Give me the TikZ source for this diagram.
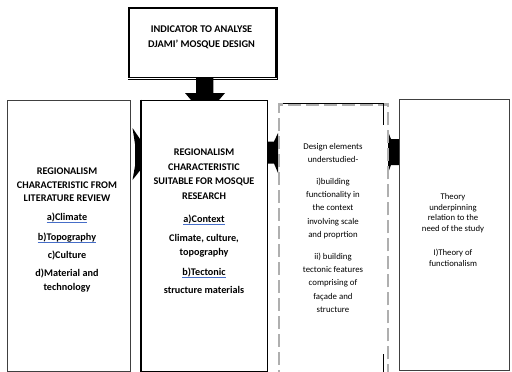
\documentclass[tikz,border=0pt]{standalone}
\usepackage{fontspec}
\setmainfont{Carlito}
\definecolor{ulblue}{RGB}{70,110,200}
\definecolor{dashgray}{RGB}{175,175,175}
\begin{document}
\begin{tikzpicture}[x=1pt,y=-1pt,
  box/.style={draw=black!75, line width=0.8pt, fill=white, inner sep=0pt, anchor=north west},
  bt/.style={font=\fontsize{10.2}{12}\selectfont\bfseries, inner sep=0pt, text height=6.9pt, text depth=1.9pt},
  tt/.style={font=\fontsize{10.3}{12}\selectfont\bfseries, inner sep=0pt, text height=6.9pt, text depth=1.9pt},
  rt/.style={font=\fontsize{8.8}{10}\selectfont, inner sep=0pt, text height=6.1pt, text depth=1.6pt},
  rts/.style={font=\fontsize{8.7}{10}\selectfont, inner sep=0pt, text height=6pt, text depth=1.6pt},
  blk/.style={fill=black, draw=none},
  ul/.style={draw=ulblue, line width=0.8pt}
]
\useasboundingbox (0,0) rectangle (512,372);
\fill[white] (0,0) rectangle (512,372);

% block arrows (drawn under the boxes)
\fill[blk] (196,76) -- (213.3,76) -- (213.3,93) -- (225,93) -- (219,100) -- (191,100) -- (185,93) -- (196,93) -- cycle;
\fill[blk] (132.5,128) -- (142,142) -- (142,168) -- (132.5,180) -- (135,166) -- (135,144) -- cycle;
\fill[blk] (266.5,141.5) -- (274,141.5) -- (278,133) -- (278,173) -- (274,163.5) -- (266.5,163.5) -- cycle;
\fill[blk] (386.5,128) -- (391,139) -- (399,139) -- (399,165) -- (391,165) -- (386.5,177) -- cycle;

% boxes
\node[box, minimum width=146.7pt, minimum height=69.4pt, line width=1.6pt, draw=black] (top) at (128.3,7.3) {};
\draw[line width=1pt] ([xshift=1pt]top.north east) -- ([xshift=1pt,yshift=-1pt]top.south east) -- ([yshift=-1pt]top.south west);
\node[box, minimum width=122.5pt, minimum height=270.5pt] (left) at (7,100) {};
\node[box, minimum width=125.5pt, minimum height=271pt, line width=1.3pt, draw=black] (mid) at (141,99.5) {};
\draw[line width=2.6pt] (mid.north west) -- (mid.south west) -- (mid.south east);
\node[box, draw=dashgray, line width=2.2pt, dash pattern=on 13pt off 5pt, minimum width=109pt, minimum height=272pt] (dash) at (277.5,103.3) {};
\draw[line width=0.7pt] (283,103.3) -- (383.5,103.3) -- (383.5,125);
\draw[line width=0.7pt] (383.5,354) -- (383.5,372);
\node[box, minimum width=110pt, minimum height=271pt] (right) at (398.5,99.3) {};

% top text
\node[tt] (t1) at (201.5,30) {INDICATOR TO ANALYSE};
\node[tt] (t2) at (201.5,45) {DJAMI’ MOSQUE DESIGN};

% left text
\node[bt] (l1) at (67,172) {REGIONALISM};
\node[bt] (l2) at (67,185.5) {CHARACTERISTIC FROM};
\node[bt] (l3) at (67,199) {LITERATURE REVIEW};
\node[bt] (l4) at (67,218) {a)Climate};
\node[bt] (l5) at (67,237.5) {b)Topography};
\node[bt] (l6) at (67,256) {c)Culture};
\node[bt] (l7) at (67,274) {d)Material and};
\node[bt] (l8) at (67,288) {technology};
\draw[ul] ([yshift=-2.2pt]l4.base west) -- ([yshift=-2.2pt]l4.base east);
\draw[ul] ([yshift=-2.8pt]l5.base west) -- ([yshift=-2.8pt]l5.base east);

% middle text
\node[bt] (m1) at (204,153) {REGIONALISM};
\node[bt] (m2) at (204,167.5) {CHARACTERISTIC};
\node[bt] (m3) at (204,182) {SUITABLE FOR MOSQUE};
\node[bt] (m4) at (204,196.5) {RESEARCH};
\node[bt] (m5) at (204,220) {a)Context};
\node[bt] (m6) at (204,239) {Climate, culture,};
\node[bt] (m7) at (204,253) {topography};
\node[bt] (m8) at (204,273) {b)Tectonic};
\node[bt] (m9) at (204,291) {structure materials};
\draw[ul] ([yshift=-2.2pt]m5.base west) -- ([yshift=-2.2pt]m5.base east);
\draw[ul] ([yshift=-2.2pt]m8.base west) -- ([yshift=-2.2pt]m8.base east);

% dashed box text
\node[rt] (d1) at (333,147) {Design elements};
\node[rt] (d2) at (333,160) {understudied-};
\node[rt] (d3) at (333,182) {i)building};
\node[rt] (d4) at (333,195) {functionality in};
\node[rt] (d5) at (333,208) {the context};
\node[rt] (d6) at (333,222) {involving scale};
\node[rt] (d7) at (333,235) {and proprtion};
\node[rt] (d8) at (333,257) {ii) building};
\node[rt] (d9) at (333,270) {tectonic features};
\node[rt] (d10) at (333,283) {comprising of};
\node[rt] (d11) at (333,297) {façade and};
\node[rt] (d12) at (333,310) {structure};

% right text
\node[rts] (r1) at (453,197) {Theory};
\node[rts] (r2) at (453,208) {underpinning};
\node[rts] (r3) at (453,218.5) {relation to the};
\node[rts] (r4) at (453,229) {need of the study};
\node[rts] (r5) at (453,253) {I)Theory of};
\node[rts] (r6) at (453,264) {functionalism};
\end{tikzpicture}
\end{document}
